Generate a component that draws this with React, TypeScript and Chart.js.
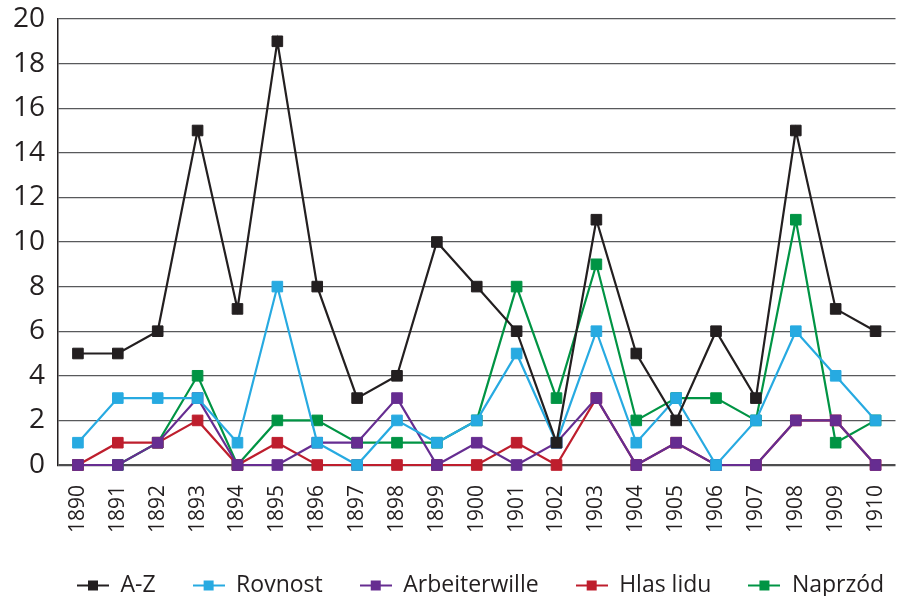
import React, { useEffect, useRef } from 'react';
import { Chart, registerables } from 'chart.js';

Chart.register(...registerables);

const years = ['1890', '1891', '1892', '1893', '1894', '1895', '1896', '1897', '1898', '1899', '1900', '1901', '1902', '1903', '1904', '1905', '1906', '1907', '1908', '1909', '1910'];

const azValues = [5, 5, 6, 15, 7, 19, 8, 3, 4, 10, 8, 6, 1, 11, 5, 2, 6, 3, 15, 7, 6];
const rovnostValues = [1, 3, 3, 3, 1, 8, 1, 0, 2, 1, 2, 5, 1, 6, 1, 3, 0, 2, 6, 4, 2];
const arbeiterwilleValues = [0, 0, 1, 3, 0, 0, 1, 1, 3, 0, 1, 0, 1, 3, 0, 1, 0, 0, 2, 2, 0];
const hlasLiduValues = [0, 1, 1, 2, 0, 1, 0, 0, 0, 0, 0, 1, 0, 3, 0, 1, 0, 0, 2, 2, 0];
const naprzodValues = [0, 0, 1, 4, 0, 2, 2, 1, 1, 1, 2, 8, 3, 9, 2, 3, 3, 2, 11, 1, 2];

const seriesNames = ['A-Z', 'Rovnost', 'Arbeiterwille', 'Hlas lidu', 'Naprzód'];
const seriesValues = [azValues, rovnostValues, arbeiterwilleValues, hlasLiduValues, naprzodValues];
const seriesColors = ['#231f20', '#27aae1', '#662d91', '#be1e2d', '#009444'];

const yMin = 0;
const yMax = 20;
const yStep = 2;

const FONT = '"Open Sans", "DejaVu Sans", sans-serif';
const TEXT = '#231f20';
const LEGEND_PAD = 37;
const LEGEND_START = 77;

function makeMarker(color: string): HTMLCanvasElement {
  const c = document.createElement('canvas');
  c.width = 32;
  c.height = 12;
  const g = c.getContext('2d')!;
  g.strokeStyle = color;
  g.lineWidth = 2;
  g.beginPath();
  g.moveTo(0, 6);
  g.lineTo(32, 6);
  g.stroke();
  g.fillStyle = color;
  g.fillRect(11, 1, 10, 10);
  return c;
}

const legendShift = {
  id: 'legendShift',
  afterLayout(chart: any) {
    const lg = chart.legend;
    if (!lg || !lg.lineWidths) return;
    const startX = (lg.left + LEGEND_PAD + lg.right - lg.lineWidths[0]) / 2;
    const d = LEGEND_START - startX;
    lg.left += d;
    lg.right += d;
  },
};

export default function App() {
  const ref = useRef<HTMLCanvasElement>(null);

  useEffect(() => {
    document.body.style.margin = '0';
    document.body.style.overflow = 'hidden';
    const markers = seriesColors.map(makeMarker);

    const chart = new Chart(ref.current!, {
      type: 'line',
      data: {
        labels: years,
        datasets: seriesNames.map((name, i) => ({
          label: name,
          data: seriesValues[i],
          borderColor: seriesColors[i],
          backgroundColor: seriesColors[i],
          borderWidth: 2.2,
          pointStyle: 'rect',
          pointRadius: 7.5,
          pointBorderWidth: 1,
          pointBorderColor: seriesColors[i],
          pointBackgroundColor: seriesColors[i],
          tension: 0,
          clip: false as any,
          fill: false,
        })),
      },
      plugins: [legendShift],
      options: {
        animation: false,
        responsive: false,
        maintainAspectRatio: false,
        layout: { padding: { top: 19, left: 0, right: 0, bottom: 0 } },
        plugins: {
          tooltip: { enabled: false },
          legend: {
            position: 'bottom',
            fullSize: true,
            maxHeight: 59,
            labels: {
              usePointStyle: true,
              pointStyleWidth: 32,
              padding: LEGEND_PAD,
              color: TEXT,
              font: { family: FONT, size: 23 },
              generateLabels: (ch: any) =>
                Chart.defaults.plugins.legend.labels.generateLabels(ch).map((l: any, i: number) => ({
                  ...l,
                  pointStyle: markers[i],
                })),
            },
          },
        },
        scales: {
          x: {
            type: 'category',
            offset: true,
            grid: { display: false, drawTicks: false },
            border: { display: false },
            ticks: {
              autoSkip: false,
              minRotation: 90,
              maxRotation: 90,
              padding: 20,
              color: TEXT,
              font: { family: FONT, size: 21 },
            },
            afterFit: (s: any) => {
              s.height = 72;
              s.paddingLeft = 0;
              s.paddingRight = 0;
            },
          },
          y: {
            min: yMin,
            max: yMax,
            grid: {
              drawTicks: false,
              color: (ctx: any) => (ctx.tick && ctx.tick.value === 0 ? '#4d4d4f' : '#58595b'),
              lineWidth: (ctx: any) => (ctx.tick && ctx.tick.value === 0 ? 2.2 : 1.3),
            },
            border: { display: true, color: TEXT, width: 1.5 },
            ticks: {
              stepSize: yStep,
              padding: 13,
              color: TEXT,
              font: { family: FONT, size: 28 },
            },
            afterFit: (s: any) => {
              s.width = 58;
              s.paddingTop = 0;
              s.paddingBottom = 0;
            },
          },
        },
      },
    } as any);

    return () => chart.destroy();
  }, []);

  return (
    <div style={{ position: 'absolute', left: 0, top: 0, width: 900, height: 596, overflow: 'hidden', background: '#fff' }}>
      <canvas ref={ref} width={904} height={596} style={{ display: 'block' }} />
    </div>
  );
}
